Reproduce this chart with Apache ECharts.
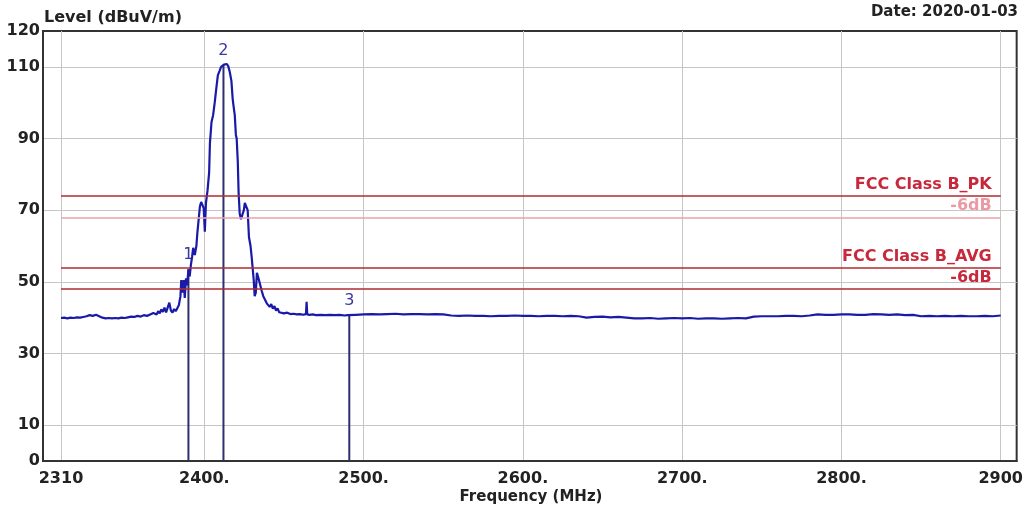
<!DOCTYPE html>
<html><head><meta charset="utf-8">
<script src="https://cdn.jsdelivr.net/npm/echarts@6/dist/echarts.min.js"></script>
<style>html,body{margin:0;padding:0;background:#fff}#c{width:1026px;height:514px}</style>
</head><body><div id="c"></div><script>
// ---- data ----
const freqMHz = [
2310,2312,2314,2316,2318,2320,2322,2324,2326,2328,2330,2332,2334,2336,2338,2340,2342,2344,2346,2348,
2350,2352,2354,2356,2358,2360,2362,2364,2366,2368,2370,2371,2372,2373,2374,2375,2376,2377,2378,2379,
2380,2381,2382,2383,2384,2385,2385.5,2386.3,2387,2387.7,2388.5,2389.2,2390,2390.8,2391.5,2392.3,2393,2394,2395,2395.6,
2396.5,2397.2,2398,2399,2399.6,2400.3,2401,2402,2403,2403.5,2404.5,2405.5,2406.5,2407.5,2408.5,2409.5,2410.5,2411.5,2412.3,2413,
2414,2415,2416,2417,2417.8,2418.5,2419.1,2419.8,2420.3,2421,2421.5,2422.2,2423,2424,2424.8,2425.4,2426.5,2427.2,2428,2429,
2429.7,2430.4,2431,2431.6,2432.3,2433,2434,2434.8,2436,2437,2438,2439.2,2440,2441,2442,2443,2444,2445,2446,2447,
2448,2450,2452,2454,2456,2458,2460,2462,2463.8,2464.2,2464.6,2466,2468,2470,2473,2476,2479,2482,2485,2488,
2490,2495,2500,2505,2510,2515,2520,2525,2530,2535,2540,2545,2550,2555,2560,2565,2570,2575,2580,2585,
2590,2595,2600,2605,2610,2615,2620,2625,2630,2635,2640,2645,2650,2655,2660,2665,2670,2675,2680,2685,
2690,2695,2700,2705,2710,2715,2720,2725,2730,2735,2740,2745,2750,2755,2760,2765,2770,2775,2780,2785,
2790,2795,2800,2805,2810,2815,2820,2825,2830,2835,2840,2845,2850,2855,2860,2865,2870,2875,2880,2885,
2890,2895,2900];
const levelDb = [
39.9,40.0,39.8,40.0,39.9,40.1,40.0,40.2,40.4,40.7,40.5,40.8,40.4,40.0,39.8,39.9,39.8,39.9,39.8,40.0,
39.9,40.1,40.3,40.2,40.5,40.3,40.7,40.5,40.9,41.3,40.9,41.8,41.2,42.3,41.6,42.8,41.5,41.9,44.2,42.0,
41.4,42.4,41.8,42.6,43.5,46.0,50.5,47.0,50.5,45.5,51.0,49.0,53.5,51.5,54.5,57.0,59.5,57.5,60.0,63.6,
63.8,71.0,72.3,71.2,70.5,64.0,72.0,75.5,80.5,88.7,94.6,96.5,100.0,104.0,107.7,108.8,110.0,110.4,110.6,110.3,
110.8,110.2,108.5,106.0,101.0,98.5,96.5,91.0,90.0,83.5,75.0,69.0,67.5,67.0,70.0,72.0,71.5,70.0,62.5,60.0,
57.0,53.5,50.5,46.0,47.0,52.5,51.0,49.6,47.5,46.0,45.5,44.0,44.5,43.0,43.8,42.5,43.2,42.0,42.6,41.5,
41.8,41.2,41.4,41.0,41.1,40.9,41.0,40.8,41.0,44.4,40.9,40.8,40.9,40.7,40.8,40.7,40.8,40.7,40.8,40.6,
40.7,40.8,40.9,41.0,40.9,41.0,41.1,40.9,41.0,41.0,40.9,41.0,40.9,40.6,40.5,40.6,40.5,40.5,40.4,40.5,
40.5,40.6,40.5,40.5,40.4,40.5,40.5,40.4,40.5,40.4,40.0,40.2,40.3,40.1,40.2,40.0,39.8,39.8,39.9,39.7,
39.8,39.9,39.8,39.9,39.7,39.8,39.8,39.7,39.8,39.9,39.8,40.3,40.4,40.4,40.4,40.5,40.5,40.4,40.6,40.9,
40.8,40.8,40.9,40.9,40.8,40.8,41.0,40.9,40.8,40.9,40.7,40.8,40.4,40.5,40.4,40.5,40.4,40.5,40.4,40.4,
40.5,40.4,40.6];
const markerFreq = [2390, 2412, 2491];
const markerLevel = [53.5, 110.6, 40.7];
const markerNames = ['1', '2', '3'];
const limitNames = ['FCC Class B_PK', '-6dB', 'FCC Class B_AVG', '-6dB'];
const limitLevel = [74, 68, 54, 48];
const limitStart = 2310, limitEnd = 2900;
const xTicks = [2310, 2400, 2500, 2600, 2700, 2800, 2900];
const xTickLabels = ['2310', '2400.', '2500.', '2600.', '2700.', '2800.', '2900'];
const yTickLabels = [0, 10, 30, 50, 70, 90, 110, 120];
const yGridLevels = [10, 30, 50, 70, 90, 110];

// ---- styles ----
const FF = 'DejaVu Sans';
const limitLineColors = ['#b02a30', '#eaa3aa', '#b02a30', '#b02a30'];
const limitTextColors = ['#c8283c', '#eb9aa3', '#c8283c', '#c8283c'];

const chart = echarts.init(document.getElementById('c'), null, {renderer: 'canvas'});

const limitSeries = limitLevel.map((v, i) => ({
  type: 'line', data: [], silent: true, z: 1,
  markLine: {
    silent: true, symbol: ['none', 'none'], animation: false,
    lineStyle: {type: 'solid', width: 1.5, color: limitLineColors[i]},
    label: {show: true, position: 'insideEndTop', formatter: limitNames[i], distance: [9, 3],
      color: limitTextColors[i], fontFamily: FF, fontWeight: 'bold', fontSize: 16},
    data: [[{coord: [limitStart, v]}, {coord: [limitEnd, v]}]]
  }
}));

chart.setOption({
  animation: false,
  backgroundColor: '#fff',
  grid: {left: 43, right: 8, top: 31, bottom: 53, show: true, borderColor: '#333', borderWidth: 2, backgroundColor: '#fff'},
  xAxis: {
    type: 'value', min: 2298.7, max: 2910,
    axisLine: {show: true, onZero: false, lineStyle: {color: '#333', width: 2}},
    axisTick: {show: false, customValues: xTicks},
    splitLine: {show: true, lineStyle: {color: '#c6c6c6', width: 1}},
    axisLabel: {customValues: xTicks, formatter: v => xTickLabels[xTicks.indexOf(v)],
      margin: 10, fontSize: 16, fontWeight: 'bold', fontFamily: FF, color: '#222'}
  },
  yAxis: {
    type: 'value', min: 0, max: 120, interval: 10,
    axisLine: {show: true, onZero: false, lineStyle: {color: '#333', width: 2}},
    axisTick: {show: false, customValues: yGridLevels},
    splitLine: {show: true, lineStyle: {color: '#c6c6c6', width: 1}},
    axisLabel: {customValues: yTickLabels, margin: 3, fontSize: 16, fontWeight: 'bold', fontFamily: FF, color: '#222'}
  },
  graphic: [
    {type: 'text', left: 44, top: 10, style: {text: 'Level (dBuV/m)', font: 'bold 16px "DejaVu Sans"', fill: '#222'}},
    {type: 'text', right: 8, top: 5, style: {text: 'Date: 2020-01-03', font: 'bold 15px "DejaVu Sans"', fill: '#222'}},
    {type: 'text', x: 531, y: 497, style: {text: 'Frequency (MHz)', font: 'bold 15px "DejaVu Sans"', fill: '#222', textAlign: 'center', textVerticalAlign: 'middle'}}
  ],
  series: [
    ...limitSeries,
    {
      type: 'line', z: 3, symbol: 'none', silent: true,
      lineStyle: {color: '#1a1aa8', width: 2.2},
      data: freqMHz.map((f, i) => [f, levelDb[i]])
    },
    {
      type: 'bar', z: 2, barWidth: 2, silent: true,
      itemStyle: {color: '#2e2e70'},
      label: {show: true, position: 'top', distance: 6, formatter: p => markerNames[p.dataIndex],
        fontFamily: FF, fontSize: 16, color: '#3838a0'},
      data: markerFreq.map((f, i) => [f, markerLevel[i]])
    }
  ]
});
</script></body></html>
